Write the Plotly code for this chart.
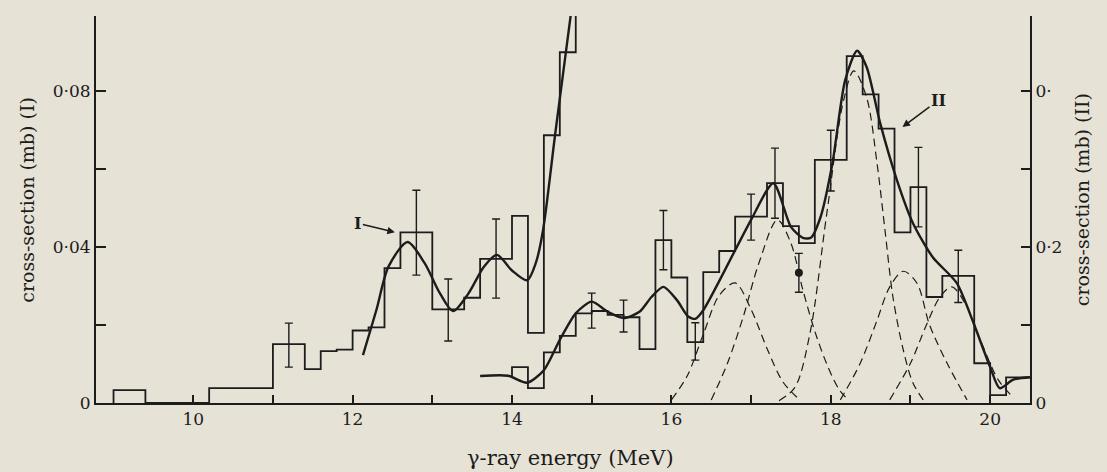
import plotly.graph_objects as go

# ---------------- data ----------------
# Histogram I (left axis, mb)
hist1_edges = [9.0, 9.4, 10.2, 11.0, 11.4, 11.6, 11.8, 12.0, 12.2, 12.4, 12.6,
               13.0, 13.4, 13.6, 14.0, 14.2, 14.4, 14.6, 14.8, 15.0]
hist1_vals = [0.0033, 0.0, 0.0038, 0.0151, 0.0087, 0.0133, 0.0137, 0.0186, 0.0194,
              0.0346, 0.0438, 0.024, 0.027, 0.037, 0.048, 0.018, 0.0687, 0.090, 0.2]

# Smooth curve I (left axis)
curve1_x = [12.13, 12.3, 12.45, 12.69, 12.9, 13.1, 13.26, 13.45, 13.65, 13.81,
            14.0, 14.19, 14.3, 14.39, 14.54, 14.74, 14.8]
curve1_y = [0.0123, 0.024, 0.035, 0.0413, 0.036, 0.028, 0.0236, 0.028, 0.035, 0.038,
            0.034, 0.0315, 0.036, 0.0444, 0.0687, 0.100, 0.11]

# Error bars I
err1_x = [11.2, 12.8, 13.2, 13.8]
err1_lo = [0.0092, 0.0328, 0.0159, 0.0269]
err1_hi = [0.0205, 0.0546, 0.0318, 0.0472]
err1_c = [0.0151, 0.0438, 0.024, 0.037]

# Histogram II (right axis, mb)
hist2_start = 0.0346
hist2_edges = [14.0, 14.2, 14.4, 14.6, 14.8, 15.0, 15.2, 15.4, 15.6, 15.8, 16.0, 16.2,
               16.4, 16.6, 16.8, 17.2, 17.4, 17.6, 17.8, 18.2, 18.4, 18.6, 18.8, 19.0,
               19.2, 19.4, 19.8, 20.0, 20.2, 20.5]
hist2_vals = [0.046, 0.019, 0.065, 0.086, 0.115, 0.118, 0.113, 0.110, 0.069, 0.209,
              0.161, 0.078, 0.168, 0.195, 0.239, 0.282, 0.227, 0.205, 0.312, 0.445,
              0.396, 0.352, 0.219, 0.277, 0.136, 0.163, 0.051, 0.010, 0.033]

# Smooth curve II (right axis)
curve2_x = [13.6, 13.95, 14.19, 14.4, 14.6, 14.8, 15.0, 15.2, 15.4, 15.6, 15.75, 15.9,
            16.07, 16.21, 16.3, 16.4, 16.8, 17.0, 17.28, 17.5, 17.65, 17.75, 17.87,
            18.02, 18.18, 18.33, 18.45, 18.62, 18.83, 19.03, 19.28, 19.58, 19.79,
            20.0, 20.12, 20.29, 20.5]
curve2_y = [0.0346, 0.035, 0.026, 0.042, 0.081, 0.115, 0.130, 0.117, 0.109, 0.117,
            0.136, 0.149, 0.132, 0.111, 0.108, 0.119, 0.196, 0.235, 0.282, 0.226,
            0.212, 0.212, 0.238, 0.307, 0.414, 0.452, 0.431, 0.359, 0.286, 0.231,
            0.187, 0.154, 0.103, 0.046, 0.019, 0.030, 0.033]

# Error bars II
err2_x = [15.0, 15.4, 15.9, 16.3, 17.0, 17.3, 18.0, 19.1, 19.6]
err2_lo = [0.096, 0.091, 0.171, 0.055, 0.209, 0.237, 0.272, 0.226, 0.129]
err2_hi = [0.141, 0.132, 0.247, 0.103, 0.268, 0.327, 0.350, 0.328, 0.196]
err2_c = [0.1185, 0.111, 0.209, 0.078, 0.239, 0.282, 0.311, 0.277, 0.163]

# Single filled point with error bar (right axis)
pt_x = [17.6]
pt_y = [0.167]
pt_lo = [0.142]
pt_hi = [0.192]

# Dashed component curves (right axis)
comp1_x = [16.0, 16.2, 16.4, 16.6, 16.8, 17.0, 17.2, 17.4, 17.6]
comp1_y = [0.004, 0.035, 0.088, 0.138, 0.154, 0.120, 0.070, 0.027, 0.005]
comp2_x = [16.5, 16.7, 16.9, 17.1, 17.33, 17.5, 17.65, 17.8, 17.95, 18.1, 18.22]
comp2_y = [0.004, 0.050, 0.110, 0.180, 0.235, 0.205, 0.145, 0.092, 0.050, 0.018, 0.004]
comp3_x = [17.35, 17.55, 17.74, 17.95, 18.16, 18.29, 18.45, 18.58, 18.68, 18.78,
           18.91, 19.03, 19.16]
comp3_y = [0.003, 0.020, 0.090, 0.243, 0.388, 0.426, 0.392, 0.308, 0.222, 0.136,
           0.068, 0.026, 0.004]
comp4_x = [18.12, 18.37, 18.58, 18.74, 18.91, 19.08, 19.24, 19.46, 19.71]
comp4_y = [0.004, 0.051, 0.106, 0.149, 0.169, 0.154, 0.100, 0.051, 0.004]
comp5_x = [18.74, 19.0, 19.2, 19.37, 19.52, 19.7, 19.9, 20.1, 20.3]
comp5_y = [0.004, 0.051, 0.100, 0.136, 0.149, 0.125, 0.075, 0.030, 0.006]

x_ticks = list(range(10, 21))
x_ticktext = [str(t) if t % 2 == 0 else "" for t in x_ticks]
yl_ticks = [0, 0.02, 0.04, 0.06, 0.08]
yl_ticktext = ["0", "", "0·04", "", "0·08"]
yr_ticks = [0, 0.1, 0.2, 0.3, 0.4]
yr_ticktext = ["0", "", "0·2", "", "0·"]

# ---------------- styling ----------------
INK = "#1c1c1c"
BG = "#e6e2d6"
FONT = "DejaVu Serif"


def steps(edges, vals, start=0.0):
    xs = [edges[0]]
    ys = [start]
    for i, v in enumerate(vals):
        xs += [edges[i], edges[i + 1]]
        ys += [v, v]
    return xs, ys


fig = go.Figure()

# Histogram I
hx, hy = steps(hist1_edges, hist1_vals)
fig.add_trace(go.Scatter(x=hx, y=hy, mode="lines", line=dict(color=INK, width=1.8),
                         yaxis="y", hoverinfo="skip"))
# Curve I
fig.add_trace(go.Scatter(x=curve1_x, y=curve1_y, mode="lines",
                         line=dict(color=INK, width=2.4, shape="spline", smoothing=0.8),
                         yaxis="y", hoverinfo="skip"))
# Error bars I
fig.add_trace(go.Scatter(
    x=err1_x, y=err1_c, mode="markers", marker=dict(size=1, color="rgba(0,0,0,0)"),
    error_y=dict(type="data", symmetric=False,
                 array=[h - c for h, c in zip(err1_hi, err1_c)],
                 arrayminus=[c - l for l, c in zip(err1_lo, err1_c)],
                 color=INK, thickness=1.4, width=4),
    yaxis="y", hoverinfo="skip"))

# Dashed components II
for cx, cy in [(comp1_x, comp1_y), (comp2_x, comp2_y), (comp3_x, comp3_y),
               (comp4_x, comp4_y), (comp5_x, comp5_y)]:
    fig.add_trace(go.Scatter(x=cx, y=cy, mode="lines",
                             line=dict(color=INK, width=1.2, dash="8px,5px",
                                       shape="spline", smoothing=0.9),
                             yaxis="y2", hoverinfo="skip"))

# Histogram II
hx2, hy2 = steps(hist2_edges, hist2_vals, hist2_start)
fig.add_trace(go.Scatter(x=hx2, y=hy2, mode="lines", line=dict(color=INK, width=1.8),
                         yaxis="y2", hoverinfo="skip"))
# Curve II
fig.add_trace(go.Scatter(x=curve2_x, y=curve2_y, mode="lines",
                         line=dict(color=INK, width=2.4, shape="spline", smoothing=0.7),
                         yaxis="y2", hoverinfo="skip"))
# Error bars II
fig.add_trace(go.Scatter(
    x=err2_x, y=err2_c, mode="markers", marker=dict(size=1, color="rgba(0,0,0,0)"),
    error_y=dict(type="data", symmetric=False,
                 array=[h - c for h, c in zip(err2_hi, err2_c)],
                 arrayminus=[c - l for l, c in zip(err2_lo, err2_c)],
                 color=INK, thickness=1.4, width=4),
    yaxis="y2", hoverinfo="skip"))
# Filled point
fig.add_trace(go.Scatter(
    x=pt_x, y=pt_y, mode="markers", marker=dict(size=8, color=INK),
    error_y=dict(type="data", symmetric=False,
                 array=[h - c for h, c in zip(pt_hi, pt_y)],
                 arrayminus=[c - l for l, c in zip(pt_lo, pt_y)],
                 color=INK, thickness=1.4, width=4),
    yaxis="y2", hoverinfo="skip"))

axis_common = dict(showgrid=False, zeroline=False, showline=True, linecolor=INK,
                   linewidth=2, ticks="inside", tickcolor=INK, tickwidth=1.6,
                   tickfont=dict(family=FONT, size=17, color=INK))

fig.update_layout(
    width=1107, height=472,
    margin=dict(l=96, r=77, t=16, b=69),
    paper_bgcolor=BG, plot_bgcolor=BG,
    showlegend=False,
    xaxis=dict(range=[8.78, 20.5], tickvals=x_ticks, ticktext=x_ticktext, ticklen=8,
               **axis_common),
    yaxis=dict(range=[0, 0.0993], tickvals=yl_ticks, ticktext=yl_ticktext, ticklen=10,
               **axis_common),
    yaxis2=dict(range=[0, 0.4965], tickvals=yr_ticks, ticktext=yr_ticktext, ticklen=9,
                overlaying="y", side="right", **axis_common),
    annotations=[
        dict(text="cross-section (mb) (I)", textangle=-90, xref="paper", yref="paper",
             x=-0.074, y=0.525, xanchor="center", yanchor="middle", showarrow=False,
             font=dict(family=FONT, size=19, color=INK)),
        dict(text="cross-section (mb) (II)", textangle=-90, xref="paper", yref="paper",
             x=1.055, y=0.525, xanchor="center", yanchor="middle", showarrow=False,
             font=dict(family=FONT, size=19, color=INK)),
        dict(text="γ-ray energy (MeV)", xref="paper", yref="paper",
             x=0.5075, y=-0.142, xanchor="center", yanchor="middle", showarrow=False,
             font=dict(family=FONT, size=21, color=INK)),
        dict(text="<b>I</b>", x=12.53, y=0.0438, xref="x", yref="y",
             ax=-37, ay=-9, showarrow=True, arrowhead=2, arrowsize=1, arrowwidth=1.5,
             arrowcolor=INK, font=dict(family=FONT, size=16, color=INK)),
        dict(text="<b>II</b>", x=18.9, y=0.354, xref="x", yref="y2",
             ax=36, ay=-27, showarrow=True, arrowhead=2, arrowsize=1, arrowwidth=1.5,
             arrowcolor=INK, font=dict(family=FONT, size=16, color=INK)),
    ],
)

fig.write_html("out.html")
